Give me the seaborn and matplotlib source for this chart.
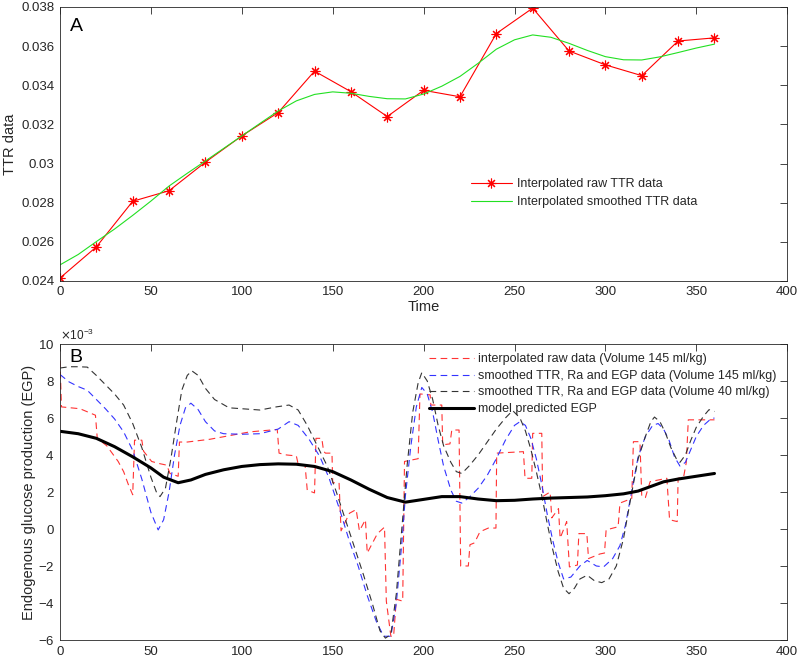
import numpy as np
import pandas as pd
import seaborn as sns
from matplotlib import pyplot as plt


## DADOS - PAINEL A (TTR)

ttr_time = [0, 20, 40, 60, 80, 100, 120, 140, 160, 180, 200, 220, 240, 260, 280, 300, 320, 340, 360]
ttr_raw = [0.02415, 0.02574, 0.02807, 0.02861, 0.03007, 0.03141, 0.03260, 0.03472, 0.03367, 0.03240,
           0.03374, 0.03341, 0.03664, 0.03794, 0.03575, 0.03504, 0.03449, 0.03626, 0.03642]

smooth_time = [0, 10, 20, 30, 40, 50, 60, 70, 80, 90, 100, 110, 120, 130, 140, 150, 160, 170,
               180, 190, 200, 210, 220, 230, 240, 250, 260, 270, 280, 290, 300, 310, 320, 330, 340, 350, 360]
ttr_smooth = [0.02482, 0.02535, 0.02601, 0.02665, 0.02735, 0.02808, 0.02885, 0.02950, 0.03013, 0.03077,
              0.03141, 0.03205, 0.03268, 0.03320, 0.03353, 0.03366, 0.03359, 0.03343, 0.03331, 0.03330,
              0.03355, 0.03395, 0.03445, 0.03512, 0.03584, 0.03632, 0.03657, 0.03645, 0.03614, 0.03578,
              0.03546, 0.03530, 0.03529, 0.03545, 0.03567, 0.03590, 0.03610]


## DADOS - PAINEL B (EGP, em unidades de 1e-3)

raw_t = [0, 0.8, 11, 19.5, 20.5, 25.7, 32, 35, 37.6, 40, 41, 45, 46, 50.4, 54, 58.7, 60.5, 65, 65.7, 70,
         82.5, 93.5, 104.5, 119.5, 120.5, 124.7, 130, 131, 134.8, 136, 140, 140.8, 144, 145, 146, 149.6,
         150, 153.5, 154.6, 159.2, 162.9, 164.7, 168, 169, 174.6, 178.5, 179.5, 182, 183.5, 185, 188.5,
         189.5, 197, 198, 203.6, 204, 210, 210.5, 214.5, 215.5, 219.5, 220.4, 224.6, 225.5, 228, 231,
         235.6, 239.8, 240.2, 254.9, 255.8, 259.5, 260, 265, 265.5, 269.6, 270.5, 274.2, 275.1, 278.7,
         280.2, 284.6, 285.4, 289.8, 290.7, 297, 299.5, 300.4, 307, 308, 314.5, 315.4, 319, 320, 322,
         324.6, 333.8, 335.3, 339.5, 340, 343, 344.5, 345.6, 360]
raw_v = [9.1, 6.6, 6.5, 6.15, 4.9, 4.5, 3.65, 3.1, 2.4, 1.85, 4.8, 4.8, 4.2, 3.65, 3.55, 3.45, 3.0, 2.85, 4.7, 4.7,
         4.85, 5.05, 5.25, 5.38, 4.1, 4.0, 3.95, 3.5, 3.45, 2.1, 1.95, 4.9, 4.9, 4.2, 4.1, 4.1,
         2.5, 2.5, -0.1, 0.85, 1.05, -0.1, 0.5, -1.3, -0.25, 0.1, -3.9, -5.8, -5.8, -3.8, -3.9,
         3.65, 3.8, 7.3, 7.25, 6.7, 6.7, 4.55, 4.6, 5.35, 5.35, -2.0, -2.0, -0.85, -0.75, -0.15,
         0.05, 0.05, 4.1, 4.18, 2.74, 2.74, 5.17, 5.17, 1.75, 2.0, 0.6, 1.1, -0.5, 0.4,
         -2.05, -1.95, -0.25, -0.25, -1.6, -1.35, -1.3, -0.05, 0.12, 1.4, 1.65, 4.72, 4.72, 1.75, 1.7,
         2.56, 2.74, 0.5, 0.4, 2.74, 2.8, 3.6, 5.9, 5.9]

s145_t = [0, 5, 10, 15, 20, 25, 30, 35, 40, 45, 50, 54, 57, 60, 63, 66, 69, 72, 76, 80, 85, 90, 100,
          110, 120, 126, 131, 137, 143, 148, 154, 159, 164, 169, 174, 178, 182, 185, 188, 190, 193, 196,
          199, 202, 205, 208, 211, 215, 218, 221, 225, 230, 235, 240, 245, 250, 253, 256, 259, 262, 265,
          268, 271, 274, 277, 281, 286, 290, 295, 299, 304, 308, 311, 314, 318, 322, 326, 329, 332, 335,
          338, 341, 344, 347, 350, 354, 358, 360]
s145_v = [8.35, 7.95, 7.7, 7.5, 7.0, 6.5, 5.95, 5.25, 4.25, 2.7, 0.9, -0.05, 0.5, 2.0, 4.0, 5.6, 6.55, 6.8,
          6.45, 5.8, 5.3, 5.15, 5.12, 5.15, 5.4, 5.8, 5.6, 4.85, 3.9, 2.75, 1.0, -0.6, -2.0, -3.6, -5.0,
          -5.8, -5.8, -4.0, -0.8, 1.8, 4.5, 6.6, 7.65, 7.3, 6.3, 4.8, 3.4, 2.1, 1.5, 1.4, 1.7, 2.2, 2.9,
          3.8, 4.8, 5.6, 5.8, 5.6, 4.9, 3.8, 2.4, 0.8, -0.6, -1.8, -2.7, -2.6, -2.0, -1.7, -2.0, -2.05,
          -1.6, -0.9, 0.2, 1.8, 3.9, 5.0, 5.6, 5.7, 5.4, 4.8, 3.9, 3.4, 3.6, 4.3, 5.0, 5.6, 5.95, 6.0]

s40_t = [0, 5, 10, 15, 20, 25, 30, 35, 40, 45, 50, 53, 55, 58, 61, 64, 67, 70, 72.5, 76, 80, 85, 93,
         110, 119, 126, 131, 136, 141, 147, 152, 157, 162, 167, 172, 176, 179, 182, 185, 188, 191, 194,
         197, 199, 202, 205, 208, 211, 215, 218, 221, 225, 230, 235, 240, 245, 249, 253, 256, 259, 262,
         265, 268, 271, 274, 277, 280, 283, 286, 290, 294, 298, 302, 306, 310, 314, 318, 322, 325, 327,
         330, 333, 336, 339, 341, 344, 347, 350, 354, 357, 360]
s40_v = [8.7, 8.77, 8.77, 8.75, 8.3, 7.8, 7.3, 6.7, 5.7, 4.4, 2.8, 2.0, 1.75, 2.2, 3.8, 5.7, 7.5, 8.3, 8.55,
         8.3, 7.6, 7.0, 6.55, 6.43, 6.6, 6.7, 6.43, 5.6, 4.6, 3.4, 2.0, 0.5, -1.0, -2.5, -4.1, -5.5, -5.9,
         -5.7, -3.5, 0.0, 3.5, 6.3, 7.9, 8.45, 8.0, 7.0, 5.6, 4.5, 3.6, 3.1, 3.0, 3.4, 4.0, 4.7, 5.4, 6.0,
         6.4, 6.0, 5.3, 4.3, 3.1, 1.8, 0.3, -1.1, -2.3, -3.2, -3.5, -3.2, -2.7, -2.5, -2.8, -2.9, -2.7,
         -2.0, -0.5, 1.7, 3.8, 5.0, 5.8, 6.05, 5.8, 5.2, 4.4, 3.8, 3.6, 4.0, 4.8, 5.5, 6.1, 6.45, 6.35]

model_t = [0, 10, 20, 30, 40, 50, 57, 65, 72, 80, 90, 100, 110, 120, 130, 140, 150, 160, 170, 180,
           190, 200, 210, 220, 230, 240, 250, 260, 270, 280, 290, 300, 310, 318, 325, 332, 340, 350, 360]
model_v = [5.28, 5.15, 4.9, 4.45, 3.9, 3.3, 2.8, 2.5, 2.65, 2.95, 3.2, 3.38, 3.48, 3.52, 3.5, 3.38, 3.1,
           2.65, 2.15, 1.7, 1.45, 1.6, 1.75, 1.75, 1.62, 1.53, 1.55, 1.62, 1.67, 1.7, 1.73, 1.8, 1.9,
           2.05, 2.3, 2.55, 2.7, 2.85, 3.0]

escala = 1e-3


## CONFIGURAÇÕES

sns.set_style('white')
plt.rcParams['font.family'] = ['Liberation Sans', 'DejaVu Sans']
cinza = '#262626'

fig = plt.figure(figsize=(8, 6.61), dpi=100)
axA = fig.add_axes([0.075, 0.575, 0.909, 0.4145])
axB = fig.add_axes([0.075, 0.0318, 0.909, 0.4478])


## PAINEL A

sns.lineplot(x=ttr_time, y=ttr_raw, ax=axA, color='red', linewidth=0.8, marker=(8, 2, 0),
             markersize=7, markeredgewidth=0.8, markeredgecolor='red',
             estimator=None, sort=False, label='Interpolated raw TTR data')
sns.lineplot(x=smooth_time, y=ttr_smooth, ax=axA, color='#22e022', linewidth=0.8,
             estimator=None, sort=False, label='Interpolated smoothed TTR data')

axA.set_xlim(0, 400)
axA.set_ylim(0.024, 0.038)
axA.set_xticks(np.arange(0, 401, 50))
axA.set_yticks(np.arange(0.024, 0.0381, 0.002))
axA.set_yticklabels(['%g' % round(v, 3) for v in np.arange(0.024, 0.0381, 0.002)])
axA.set_xlabel('Time', fontsize=10.5, color=cinza, labelpad=1)
axA.set_ylabel('TTR data', fontsize=10.5, color=cinza, labelpad=3)
axA.text(0.013, 0.93, 'A', transform=axA.transAxes, fontsize=14, color='black', va='center')
axA.legend(loc='upper left', bbox_to_anchor=(0.565, 0.375), frameon=False, fontsize=9,
           handlelength=3.3, handletextpad=0.4, labelspacing=0.5, borderaxespad=0, borderpad=0)


## PAINEL B

df_raw = pd.DataFrame({'t': raw_t, 'v': np.array(raw_v) * escala})
df_145 = pd.DataFrame({'t': s145_t, 'v': np.array(s145_v) * escala})
df_40 = pd.DataFrame({'t': s40_t, 'v': np.array(s40_v) * escala})
df_mod = pd.DataFrame({'t': model_t, 'v': np.array(model_v) * escala})

tracejado = (0, (6, 4))
sns.lineplot(data=df_raw, x='t', y='v', ax=axB, color='#ff3333', linewidth=0.8, linestyle=tracejado,
             estimator=None, sort=False, label='interpolated raw data (Volume 145 ml/kg)')
sns.lineplot(data=df_145, x='t', y='v', ax=axB, color='#3333ff', linewidth=0.8, linestyle=tracejado,
             estimator=None, sort=False, label='smoothed TTR, Ra and EGP data (Volume 145 ml/kg)')
sns.lineplot(data=df_40, x='t', y='v', ax=axB, color='#333333', linewidth=0.8, linestyle=tracejado,
             estimator=None, sort=False, label='smoothed TTR, Ra and EGP data (Volume 40 ml/kg)')
sns.lineplot(data=df_mod, x='t', y='v', ax=axB, color='black', linewidth=2.2,
             estimator=None, sort=False, label='model predicted EGP')

axB.set_xlim(0, 400)
axB.set_ylim(-6e-3, 10e-3)
axB.set_xticks(np.arange(0, 401, 50))
axB.set_yticks(np.arange(-6, 10.1, 2) * escala)
axB.ticklabel_format(style='sci', axis='y', scilimits=(-3, -3), useMathText=True)
axB.yaxis.get_offset_text().set_fontsize(8.5)
axB.yaxis.get_offset_text().set_color(cinza)
axB.set_xlabel('')
axB.set_ylabel('Endogenous glucose production (EGP)', fontsize=10.5, color=cinza, labelpad=1)
axB.text(0.013, 0.955, 'B', transform=axB.transAxes, fontsize=14, color='black', va='center')
axB.legend(loc='upper left', bbox_to_anchor=(0.508, 0.968), frameon=False, fontsize=9,
           handlelength=3.6, handletextpad=0.3, labelspacing=0.36, borderaxespad=0, borderpad=0)


## ESTILO DOS EIXOS (tipo MATLAB)

for ax in [axA, axB]:
    for s in ax.spines.values():
        s.set_visible(True)
        s.set_color(cinza)
        s.set_linewidth(0.6)
    ax.tick_params(direction='in', length=5, width=0.6, top=True, right=True,
                   labelsize=9.5, colors=cinza, pad=4)

plt.savefig('out.png', dpi=100)
